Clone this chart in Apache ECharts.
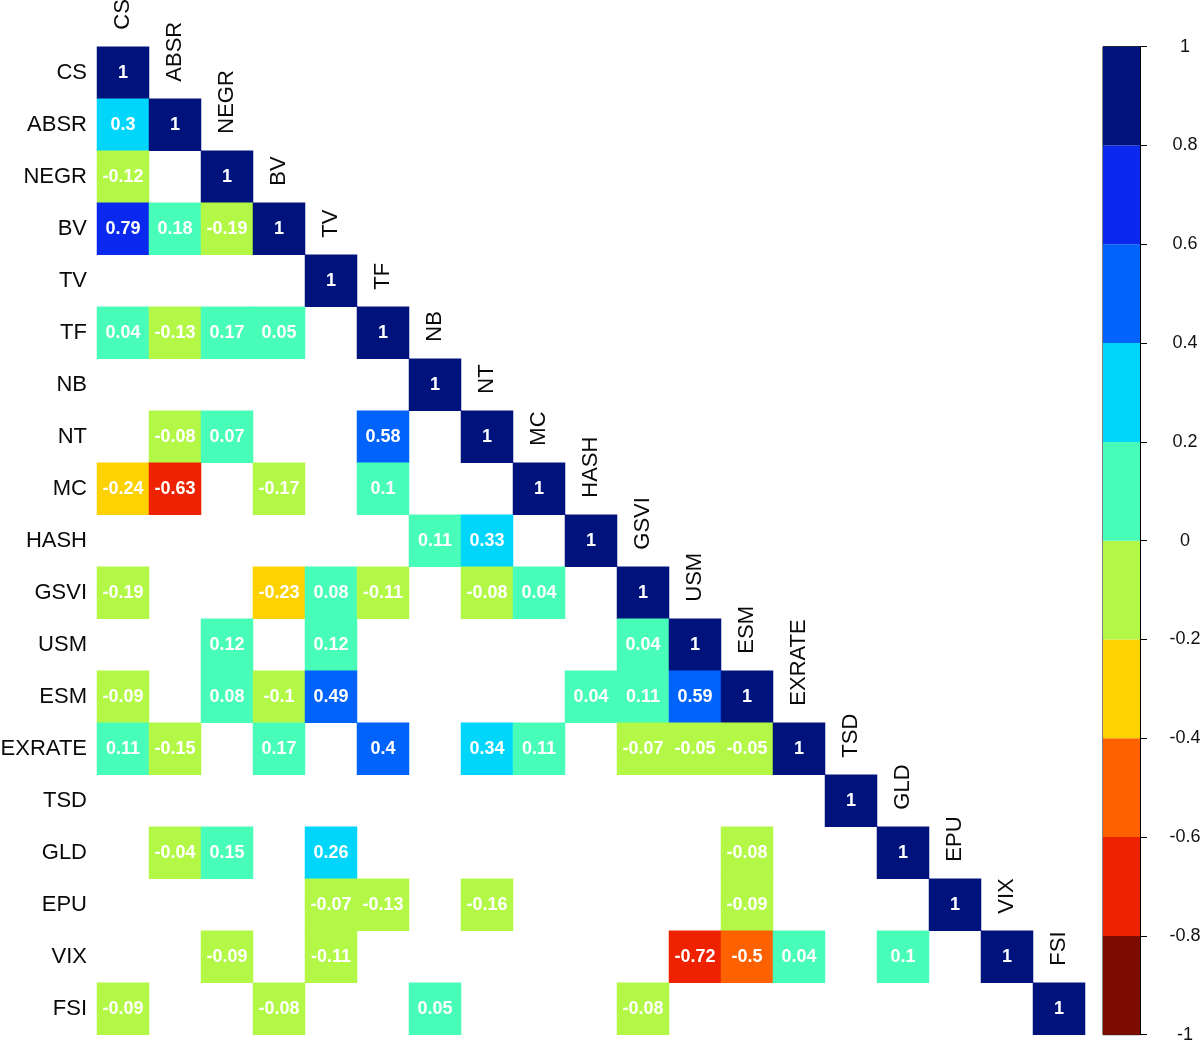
<!DOCTYPE html>
<html>
<head>
<meta charset="utf-8">
<script src="https://cdn.jsdelivr.net/npm/echarts@6/dist/echarts.min.js"></script>
<style>
html,body{margin:0;padding:0;background:#fff;}
#chart{width:1200px;height:1041px;}
</style>
</head>
<body>
<div id="chart"></div>
<script>
// ---- Data ----
const categories = ['CS','ABSR','NEGR','BV','TV','TF','NB','NT','MC','HASH','GSVI','USM','ESM','EXRATE','TSD','GLD','EPU','VIX','FSI'];

// Lower-triangle correlation rows (null = blank / not shown)
const rowCS     = [1];
const rowABSR   = [0.3, 1];
const rowNEGR   = [-0.12, null, 1];
const rowBV     = [0.79, 0.18, -0.19, 1];
const rowTV     = [null, null, null, null, 1];
const rowTF     = [0.04, -0.13, 0.17, 0.05, null, 1];
const rowNB     = [null, null, null, null, null, null, 1];
const rowNT     = [null, -0.08, 0.07, null, null, 0.58, null, 1];
const rowMC     = [-0.24, -0.63, null, -0.17, null, 0.1, null, null, 1];
const rowHASH   = [null, null, null, null, null, null, 0.11, 0.33, null, 1];
const rowGSVI   = [-0.19, null, null, -0.23, 0.08, -0.11, null, -0.08, 0.04, null, 1];
const rowUSM    = [null, null, 0.12, null, 0.12, null, null, null, null, null, 0.04, 1];
const rowESM    = [-0.09, null, 0.08, -0.1, 0.49, null, null, null, null, 0.04, 0.11, 0.59, 1];
const rowEXRATE = [0.11, -0.15, null, 0.17, null, 0.4, null, 0.34, 0.11, null, -0.07, -0.05, -0.05, 1];
const rowTSD    = [null, null, null, null, null, null, null, null, null, null, null, null, null, null, 1];
const rowGLD    = [null, -0.04, 0.15, null, 0.26, null, null, null, null, null, null, null, -0.08, null, null, 1];
const rowEPU    = [null, null, null, null, -0.07, -0.13, null, -0.16, null, null, null, null, -0.09, null, null, null, 1];
const rowVIX    = [null, null, -0.09, null, -0.11, null, null, null, null, null, null, -0.72, -0.5, 0.04, null, 0.1, null, 1];
const rowFSI    = [-0.09, null, null, -0.08, null, null, 0.05, null, null, null, -0.08, null, null, null, null, null, null, null, 1];

const colorBreaks = [-1, -0.8, -0.6, -0.4, -0.2, 0, 0.2, 0.4, 0.6, 0.8, 1];
const binColors = ['#7c0c00', '#ee2200', '#fe6100', '#fed200', '#b4f847', '#48fdb8', '#00d6fc', '#0063fb', '#0a28ee', '#00137c'];

// ---- Build ----
const rows = [rowCS,rowABSR,rowNEGR,rowBV,rowTV,rowTF,rowNB,rowNT,rowMC,rowHASH,rowGSVI,rowUSM,rowESM,rowEXRATE,rowTSD,rowGLD,rowEPU,rowVIX,rowFSI];
const heatData = [];
rows.forEach((r, i) => r.forEach((v, j) => { if (v !== null) heatData.push([j, i, v]); }));

const pieces = binColors.map((c, k) => {
  const p = { gte: colorBreaks[k], color: c };
  if (k === binColors.length - 1) p.lte = colorBreaks[k + 1]; else p.lt = colorBreaks[k + 1];
  return p;
});

const diagLabels = categories.map((c, j) => ({ name: c, value: [j, j] }));
const barData = binColors.map((c, k) => [0, colorBreaks[k], colorBreaks[k + 1], k]);

const FONT = 'Liberation Sans, Arial, Helvetica, sans-serif';

const chart = echarts.init(document.getElementById('chart'), null, { renderer: 'canvas' });
chart.setOption({
  backgroundColor: '#fff',
  animation: false,
  grid: [
    { left: 97, top: 46.7, width: 988, height: 988, containLabel: false, outerBoundsMode: 'none' },
    { left: 1103, top: 46.7, width: 37, height: 988, show: true, borderColor: '#000', borderWidth: 1,
      backgroundColor: 'transparent', containLabel: false, outerBoundsMode: 'none' }
  ],
  xAxis: [
    { type: 'category', data: categories, gridIndex: 0, show: false },
    { type: 'category', data: ['cb'], gridIndex: 1, show: false }
  ],
  yAxis: [
    { type: 'category', data: categories, gridIndex: 0, inverse: true,
      axisLine: { show: false }, axisTick: { show: false }, splitLine: { show: false },
      axisLabel: { color: '#0a0a0a', fontSize: 22, fontFamily: FONT, margin: 10 } },
    { type: 'value', gridIndex: 1, min: -1, max: 1, interval: 0.2, position: 'right',
      axisLine: { show: true, lineStyle: { color: '#000', width: 1 } },
      axisTick: { show: true, length: 7, lineStyle: { color: '#000' } },
      splitLine: { show: false },
      axisLabel: { color: '#111', fontSize: 18, fontFamily: FONT, margin: 45, align: 'center',
        formatter: v => String(+(+v).toFixed(1)) } }
  ],
  visualMap: {
    type: 'piecewise', show: false, seriesIndex: 0, dimension: 2, pieces: pieces
  },
  series: [
    {
      type: 'heatmap', xAxisIndex: 0, yAxisIndex: 0, data: heatData,
      itemStyle: { borderWidth: 0 },
      label: { show: true, color: '#fff', fontWeight: 'bold', fontSize: 18, fontFamily: FONT,
        formatter: p => String(p.value[2]) },
      emphasis: { disabled: true }
    },
    {
      type: 'scatter', xAxisIndex: 0, yAxisIndex: 0, data: diagLabels,
      symbol: 'circle', symbolSize: 2, itemStyle: { color: 'rgba(0,0,0,0)', opacity: 1 },
      z: 10,
      label: { show: true, position: [1, -42], rotate: 90, align: 'left', verticalAlign: 'middle',
        formatter: '{b}', color: '#0a0a0a', opacity: 1, fontSize: 22, fontFamily: FONT },
      silent: true
    },
    {
      type: 'custom', xAxisIndex: 1, yAxisIndex: 1, data: barData,
      renderItem: (params, api) => {
        const top = api.coord([api.value(0), api.value(2)]);
        const bot = api.coord([api.value(0), api.value(1)]);
        const w = api.size([1, 0])[0];
        return { type: 'rect',
          shape: { x: top[0] - w / 2, y: top[1], width: w, height: bot[1] - top[1] },
          style: { fill: binColors[api.value(3)] } };
      },
      silent: true
    }
  ]
});
</script>
</body>
</html>
